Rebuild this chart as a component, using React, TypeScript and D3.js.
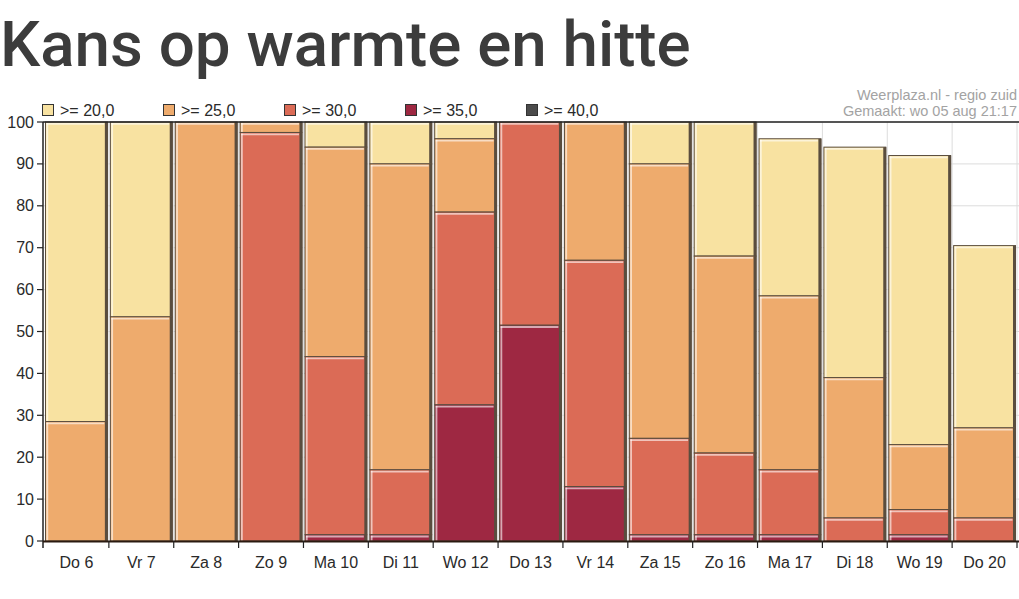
import React from "react";
import * as d3 from "d3";

const categories = ["Do 6", "Vr 7", "Za 8", "Zo 9", "Ma 10", "Di 11", "Wo 12", "Do 13", "Vr 14", "Za 15", "Zo 16", "Ma 17", "Di 18", "Wo 19", "Do 20"];
const thresholds = [">= 20,0", ">= 25,0", ">= 30,0", ">= 35,0", ">= 40,0"];
// cumulative probability (%) of max temp reaching each threshold
const p20 = [100, 100, 100, 100, 100, 100, 100, 100, 100, 100, 100, 96, 94, 92, 70.5];
const p25 = [28.5, 53.5, 100, 100, 94, 90, 96, 100, 100, 90, 68, 58.5, 39, 23, 27];
const p30 = [0, 0, 0, 97.5, 44, 17, 78.5, 100, 67, 24.5, 21, 17, 5.5, 7.5, 5.5];
const p35 = [0, 0, 0, 0, 1.5, 1.5, 32.5, 51.5, 13, 1.5, 1.5, 1.5, 0, 1.5, 0];
const p40 = [0, 0, 0, 0, 0, 0, 0, 0, 0, 0, 0, 0, 0, 0, 0];
const yTicks = [0, 10, 20, 30, 40, 50, 60, 70, 80, 90, 100];
const colors = ["#f8e2a1", "#eeab6d", "#db6b56", "#9e2842", "#4b4b4b"];

const W = 1019, H = 599;
const left = 44, right = 1017, top = 122, bottom = 541;

export default function App() {
  const series = [p20, p25, p30, p35, p40];
  const x = d3.scaleBand<string>().domain(categories).range([left, right]).padding(0);
  const y = d3.scaleLinear().domain([0, 100]).range([bottom, top]);
  const step = x.step();
  const dark = "#5a4d3e";
  const font = "'Liberation Sans', Arial, sans-serif";

  const segs: any[] = [];
  categories.forEach((c, ci) => {
    series.forEach((s, si) => {
      const upper = s[ci];
      const lower = si + 1 < series.length ? series[si + 1][ci] : 0;
      if (upper > lower) segs.push({ c, si, upper, lower });
    });
  });

  return (
    <svg width={W} height={H} style={{ position: "absolute", left: 0, top: 0, background: "#fff" }}>
      <text x={0} y={66} fontFamily="Roboto, sans-serif" fontWeight={500} fontSize={63.7} fill="#3c3c3c">Kans op warmte en hitte</text>
      <text x={1017} y={100} textAnchor="end" fontFamily={font} fontSize={14.5} fill="#a3a3a3">Weerplaza.nl - regio zuid</text>
      <text x={1017} y={116} textAnchor="end" fontFamily={font} fontSize={14.5} fill="#a3a3a3">Gemaakt: wo 05 aug 21:17</text>

      {thresholds.map((t, i) => (
        <g key={t} transform={`translate(${42 + i * 121},0)`}>
          <rect x={0.5} y={104.5} width={11} height={11} fill={colors[i]} stroke="#333" strokeWidth={1} />
          <text x={18} y={116} fontFamily={font} fontSize={16} fill="#2a2a2a">{t}</text>
        </g>
      ))}

      {/* grid */}
      {yTicks.map((t) => (
        <line key={"h" + t} x1={left} x2={W} y1={y(t)} y2={y(t)} stroke="#dcdcdc" strokeWidth={1} />
      ))}
      {categories.map((c) => (
        <line key={"v" + c} x1={(x(c) as number) + step} x2={(x(c) as number) + step} y1={top} y2={bottom} stroke="#dcdcdc" strokeWidth={1} />
      ))}

      {/* bars */}
      {segs.map((d, i) => {
        const x0 = (x(d.c) as number) + 1.5;
        const w = step - 3;
        const y0 = y(d.upper);
        const h = y(d.lower) - y(d.upper);
        return (
          <g key={i}>
            <rect x={x0} y={y0} width={w} height={h} fill={colors[d.si]} stroke={dark} strokeWidth={1} />
            <line x1={x0 + 1} x2={x0 + w - 3} y1={y0 + 1.8} y2={y0 + 1.8} stroke="#fff" strokeOpacity={0.6} strokeWidth={1.8} />
            <line x1={x0 + 1.8} x2={x0 + 1.8} y1={y0 + 1} y2={y0 + h - 0.5} stroke="#fff" strokeOpacity={0.6} strokeWidth={1.8} />
            <rect x={x0 + w - 2.5} y={y0} width={3} height={h} fill={dark} />
          </g>
        );
      })}

      {/* frame */}
      <line x1={left - 1} x2={W} y1={top} y2={top} stroke="#222" strokeWidth={1.5} />
      <line x1={left - 1} x2={left - 1} y1={top} y2={bottom + 7} stroke="#222" strokeWidth={1.5} />
      <line x1={left - 1} x2={W} y1={bottom + 0.5} y2={bottom + 0.5} stroke="#2a1a10" strokeWidth={2} />

      {yTicks.map((t) => (
        <g key={"yt" + t}>
          <line x1={left - 7} x2={left - 1} y1={y(t)} y2={y(t)} stroke="#222" strokeWidth={1.2} />
          <text x={left - 10} y={y(t) + 5.5} textAnchor="end" fontFamily={font} fontSize={16} fill="#2a2a2a">{t}</text>
        </g>
      ))}
      {categories.map((c) => (
        <g key={"xt" + c}>
          <line x1={(x(c) as number) + step} x2={(x(c) as number) + step} y1={bottom} y2={bottom + 7} stroke="#222" strokeWidth={1.2} />
          <text x={(x(c) as number) + step / 2} y={568} textAnchor="middle" fontFamily={font} fontSize={16} fill="#2a2a2a">{c}</text>
        </g>
      ))}
    </svg>
  );
}
